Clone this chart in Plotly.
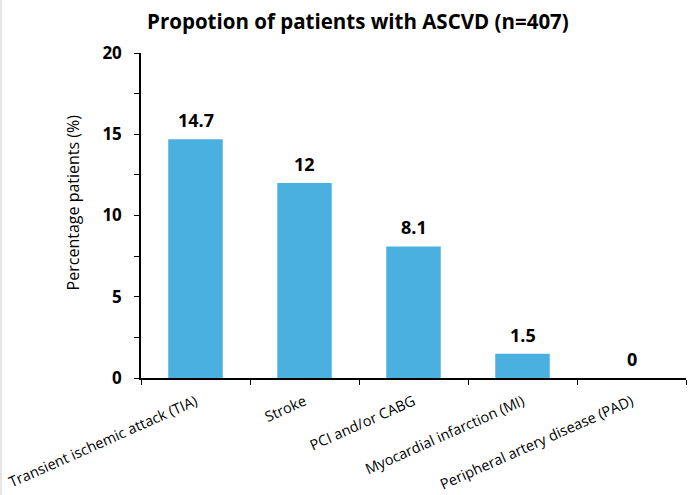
import plotly.graph_objects as go

categories = ["Transient ischemic attack (TIA)", "Stroke", "PCI and/or CABG",
              "Myocardial infarction (MI)", "Peripheral artery disease (PAD)"]
values = [14.7, 12, 8.1, 1.5, 0]
labels = ["14.7", "12", "8.1", "1.5", "0"]
y_ticks = [0, 5, 10, 15, 20]

FONT = "Open Sans"

fig = go.Figure(go.Bar(
    x=categories, y=values,
    marker=dict(color="#4AB0E0", line=dict(width=0)),
    cliponaxis=False,
))

for c, v, t in zip(categories, values, labels):
    fig.add_annotation(x=c, y=v, text=f"<b>{t}</b>", showarrow=False,
                       yanchor="middle", yshift=19,
                       font=dict(family=FONT, size=18, color="black"))

fig.add_annotation(xref="paper", yref="paper", x=-0.125, y=0.54,
                   text="Percentage patients (%)", textangle=-90, showarrow=False,
                   xanchor="center", yanchor="middle",
                   font=dict(family=FONT, size=16, color="black"))

# faint frame line at the left edge of the image
fig.add_shape(type="line", xref="paper", yref="paper",
              x0=-140 / 545, x1=-140 / 545, y0=-117 / 325, y1=1 + 53 / 325,
              line=dict(color="#DCDCDC", width=1.5))

fig.update_layout(
    width=695, height=495,
    paper_bgcolor="white", plot_bgcolor="white",
    margin=dict(l=141, r=9, t=53, b=117),
    bargap=0.5,
    showlegend=False,
    title=dict(text="<b>Propotion of patients with ASCVD (n=407)</b>",
               x=0.515, xanchor="center", y=0.955, yanchor="middle",
               font=dict(family=FONT, size=20.5, color="black")),
)
fig.update_xaxes(
    type="category", showline=True, linecolor="black", linewidth=1.5,
    ticks="outside", tickson="boundaries", ticklen=5, tickcolor="black",
    tickangle=-24, tickfont=dict(family=FONT, size=14.5, color="black"),
    ticklabelstandoff=8, automargin=False,
    showgrid=False,
)
fig.update_yaxes(
    range=[0, 20], tickvals=y_ticks, ticktext=[f"<b>{v}</b>" for v in y_ticks],
    showline=True, linecolor="black", linewidth=1.5,
    ticks="outside", ticklen=5, tickcolor="black", ticklabelstandoff=9,
    minor=dict(ticks="outside", ticklen=5, dtick=2.5, tickcolor="black", showgrid=False),
    tickfont=dict(family=FONT, size=17, color="black"),
    showgrid=False, zeroline=False, automargin=False,
)

fig.write_html("out.html")
